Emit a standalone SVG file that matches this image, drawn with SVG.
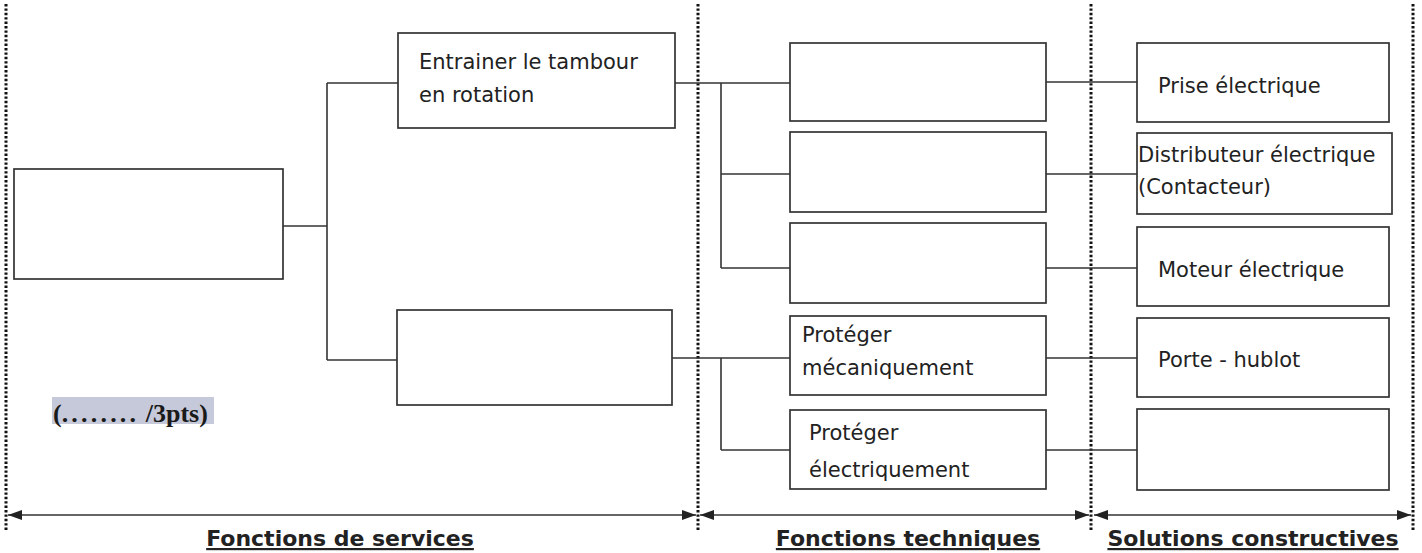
<svg xmlns="http://www.w3.org/2000/svg" width="1422" height="553" viewBox="0 0 1422 553">
<style>
.box{fill:#fff;stroke:#333;stroke-width:1.7}
.ln{fill:none;stroke:#333;stroke-width:1.6}
.dot{fill:none;stroke:#111;stroke-width:3;stroke-dasharray:2.4 2}
.arr{fill:none;stroke:#333;stroke-width:1.7}
.t{font-family:"DejaVu Sans","Liberation Sans",sans-serif;font-size:21px;fill:#222}
.h{font-family:"DejaVu Sans","Liberation Sans",sans-serif;font-size:22px;font-weight:bold;fill:#222;text-decoration:underline;text-anchor:middle}
.p{font-family:"Liberation Serif","DejaVu Serif",serif;font-size:26px;font-weight:bold;fill:#1a1a1a}
</style>
<defs>
<marker id="ah" viewBox="0 0 14 10" refX="14" refY="5" markerWidth="14" markerHeight="10" markerUnits="userSpaceOnUse" orient="auto-start-reverse">
<path d="M0,0 L14,5 L0,10 Z" fill="#222"/>
</marker>
</defs>
<rect width="1422" height="553" fill="#fff"/>
<g id="separators">
<line class="dot" x1="6" y1="4" x2="6" y2="530"/>
<line class="dot" x1="698" y1="4" x2="698" y2="530"/>
<line class="dot" x1="1091" y1="4" x2="1091" y2="530"/>
<line class="dot" x1="1413" y1="4" x2="1413" y2="530"/>
</g>
<g id="connectors">
<line class="ln" x1="283" y1="226" x2="327" y2="226"/>
<line class="ln" x1="327" y1="83" x2="327" y2="360"/>
<line class="ln" x1="327" y1="83" x2="398" y2="83"/>
<line class="ln" x1="327" y1="360" x2="397" y2="360"/>
<line class="ln" x1="675" y1="83" x2="790" y2="83"/>
<line class="ln" x1="721" y1="83" x2="721" y2="268"/>
<line class="ln" x1="721" y1="174" x2="790" y2="174"/>
<line class="ln" x1="721" y1="268" x2="790" y2="268"/>
<line class="ln" x1="672" y1="358" x2="790" y2="358"/>
<line class="ln" x1="721" y1="358" x2="721" y2="450"/>
<line class="ln" x1="721" y1="450" x2="790" y2="450"/>
<line class="ln" x1="1046" y1="82" x2="1137" y2="82"/>
<line class="ln" x1="1046" y1="174" x2="1137" y2="174"/>
<line class="ln" x1="1046" y1="268" x2="1137" y2="268"/>
<line class="ln" x1="1046" y1="358" x2="1137" y2="358"/>
<line class="ln" x1="1046" y1="450" x2="1137" y2="450"/>
</g>
<g id="fs-root"><rect class="box" x="14" y="169" width="269" height="110"/></g>
<g id="fs-1"><rect class="box" x="398" y="33" width="277" height="95"/>
<text class="t" x="419" y="69">Entrainer le tambour</text>
<text class="t" x="419" y="102">en rotation</text></g>
<g id="fs-2"><rect class="box" x="397" y="310" width="275" height="95"/></g>
<g id="ft-1"><rect class="box" x="790" y="43" width="256" height="78"/></g>
<g id="ft-2"><rect class="box" x="790" y="132" width="256" height="80"/></g>
<g id="ft-3"><rect class="box" x="790" y="223" width="256" height="80"/></g>
<g id="ft-4"><rect class="box" x="790" y="316" width="256" height="79"/>
<text class="t" x="802" y="342">Protéger</text>
<text class="t" x="802" y="375">mécaniquement</text></g>
<g id="ft-5"><rect class="box" x="790" y="410" width="256" height="79"/>
<text class="t" x="809" y="440">Protéger</text>
<text class="t" x="809" y="477">électriquement</text></g>
<g id="sc-1"><rect class="box" x="1137" y="43" width="252" height="79"/>
<text class="t" x="1158" y="93">Prise électrique</text></g>
<g id="sc-2"><rect class="box" x="1137" y="133" width="255" height="81"/>
<text class="t" x="1138" y="162">Distributeur électrique</text>
<text class="t" x="1138" y="194">(Contacteur)</text></g>
<g id="sc-3"><rect class="box" x="1137" y="227" width="252" height="79"/>
<text class="t" x="1158" y="277">Moteur électrique</text></g>
<g id="sc-4"><rect class="box" x="1137" y="318" width="252" height="79"/>
<text class="t" x="1158" y="367">Porte - hublot</text></g>
<g id="sc-5"><rect class="box" x="1137" y="409" width="252" height="81"/></g>
<g id="score">
<rect x="52" y="397" width="162" height="27" fill="#c6c9d9"/>
<text class="p" x="53" y="422">(<tspan letter-spacing="3.2">........</tspan> /3pts)</text>
</g>
<g id="arrows">
<line class="arr" x1="8" y1="515" x2="696" y2="515" marker-start="url(#ah)" marker-end="url(#ah)"/>
<line class="arr" x1="700" y1="515" x2="1089" y2="515" marker-start="url(#ah)" marker-end="url(#ah)"/>
<line class="arr" x1="1094" y1="515" x2="1411" y2="515" marker-start="url(#ah)" marker-end="url(#ah)"/>
</g>
<g id="labels">
<text class="h" x="340" y="546">Fonctions de services</text>
<text class="h" x="908" y="546">Fonctions techniques</text>
<text class="h" x="1253" y="546">Solutions constructives</text>
</g>
</svg>
